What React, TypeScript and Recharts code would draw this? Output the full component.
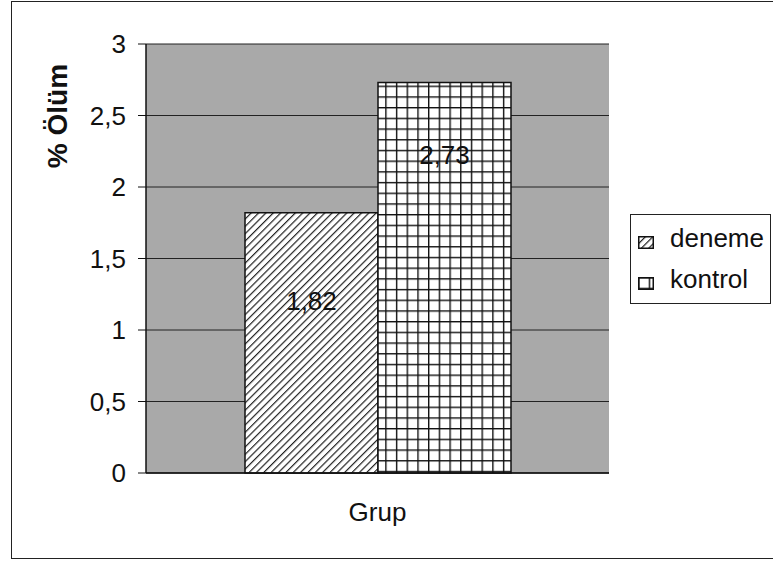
import { Bar, BarChart, CartesianGrid, LabelList, Legend, XAxis, YAxis } from 'recharts';

const categories = ['Grup'];
const denemeValues = [1.82];
const kontrolValues = [2.73];
const yTicks = [0, 0.5, 1, 1.5, 2, 2.5, 3];
const seriesNames = ['deneme', 'kontrol'];

const data = categories.map((c, i) => ({ grup: c, deneme: denemeValues[i], kontrol: kontrolValues[i] }));

const font = '"Liberation Sans", Arial, sans-serif';
const comma = (v: number | string) => String(v).replace('.', ',');

function LegendBox() {
  return (
    <div
      style={{
        width: 141,
        height: 90,
        border: '1.5px solid #222',
        boxSizing: 'border-box',
        background: '#fff',
        fontFamily: font,
        fontSize: 26,
        color: '#111',
        paddingTop: 3,
      }}
    >
      {seriesNames.map((name) => (
        <div key={name} style={{ display: 'flex', alignItems: 'center', height: 41, lineHeight: '41px' }}>
          <svg width={16} height={13} style={{ marginLeft: 7, marginRight: 16, marginTop: 7 }}>
            <rect x={0.75} y={0.75} width={14.5} height={11.5} fill={`url(#pat-${name})`} stroke="#111" strokeWidth={1.5} />
          </svg>
          <span>{name}</span>
        </div>
      ))}
    </div>
  );
}

function YTitle(props: any) {
  const vb = props.viewBox || { x: 0, y: 0 };
  const x = vb.x + 67;
  const y = vb.y + 72;
  return (
    <text
      x={x}
      y={y}
      transform={`rotate(-90 ${x} ${y})`}
      textAnchor="middle"
      fontFamily={font}
      fontSize={28}
      fontWeight="bold"
      fill="#111"
    >
      % Ölüm
    </text>
  );
}

export default function App() {
  return (
    <div style={{ position: 'absolute', left: 0, top: 0, width: 773, height: 562, overflow: 'hidden', background: '#fff' }}>
      <div
        style={{
          position: 'absolute',
          left: 11,
          top: 1,
          width: 800,
          height: 558,
          border: '1.5px solid #222',
          boxSizing: 'border-box',
        }}
      />
      <BarChart
        width={773}
        height={562}
        data={data}
        margin={{ top: 44, right: 164, bottom: 29, left: 0 }}
        barCategoryGap={99}
        barGap={0}
        style={{ position: 'absolute', left: 0, top: 0 }}
      >
        <defs>
          <pattern id="pat-deneme" patternUnits="userSpaceOnUse" width={5.2} height={5.2} patternTransform="rotate(45)">
            <rect width={5.2} height={5.2} fill="#fff" />
            <line x1={0.6} y1={0} x2={0.6} y2={5.2} stroke="#222" strokeWidth={1.2} />
          </pattern>
          <pattern id="pat-kontrol" patternUnits="userSpaceOnUse" width={10.7} height={10.7}>
            <rect width={10.7} height={10.7} fill="#fff" />
            <line x1={0.7} y1={0} x2={0.7} y2={10.7} stroke="#111" strokeWidth={1.4} />
            <line x1={0} y1={0.7} x2={10.7} y2={0.7} stroke="#111" strokeWidth={1.4} />
          </pattern>
        </defs>
        <CartesianGrid vertical={false} stroke="#222" strokeWidth={1} fill="#a9a9a9" fillOpacity={1} />
        <XAxis
          dataKey="grup"
          height={60}
          axisLine={{ stroke: '#111', strokeWidth: 1.5 }}
          tickLine={false}
          tickSize={6}
          tickMargin={24}
          tick={{ fill: '#111', fontSize: 26, fontFamily: font }}
        />
        <YAxis
          width={146}
          domain={[0, 3]}
          ticks={yTicks}
          tickFormatter={comma}
          axisLine={{ stroke: '#111', strokeWidth: 1.5 }}
          tickLine={{ stroke: '#111' }}
          tickSize={8}
          tickMargin={12}
          tick={{ fill: '#111', fontSize: 26, fontFamily: font }}
          label={{ content: (p: any) => <YTitle {...p} /> }}
        />
        <Legend
          layout="vertical"
          align="center"
          verticalAlign="middle"
          content={() => <LegendBox />}
          wrapperStyle={{ position: 'absolute', left: 630, top: 214, width: 141, height: 90 }}
        />
        <Bar dataKey="deneme" fill="url(#pat-deneme)" stroke="#111" strokeWidth={1.5} isAnimationActive={false}>
          <LabelList dataKey="deneme" position="insideTop" offset={79} formatter={comma} fill="#111" fontSize={26} fontFamily={font} />
        </Bar>
        <Bar dataKey="kontrol" fill="url(#pat-kontrol)" stroke="#111" strokeWidth={1.5} isAnimationActive={false}>
          <LabelList dataKey="kontrol" position="insideTop" offset={63} formatter={comma} fill="#111" fontSize={26} fontFamily={font} />
        </Bar>
      </BarChart>
    </div>
  );
}
